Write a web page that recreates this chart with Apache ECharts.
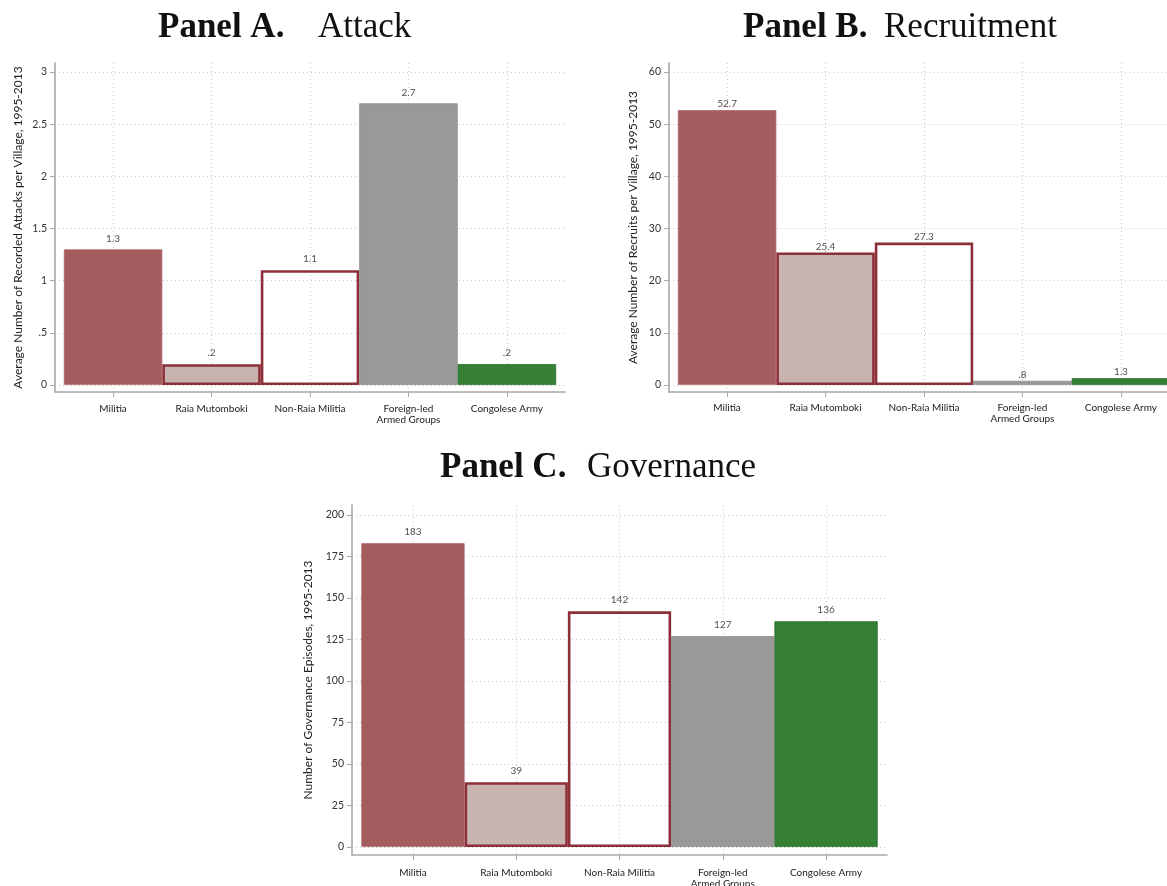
<!DOCTYPE html>
<html>
<head>
<meta charset="utf-8">
<script src="https://cdn.jsdelivr.net/npm/echarts@6/dist/echarts.min.js"></script>
<style>
  html, body { margin: 0; padding: 0; background: #ffffff; }
  #chart { width: 1167px; height: 886px; }
</style>
</head>
<body>
<div id="chart"></div>
<script>
// Armed actors compared in every panel
const categories = ['Militia', 'Raia Mutomboki', 'Non-Raia Militia', 'Foreign-led\nArmed Groups', 'Congolese Army'];

// Panel values, one per actor
const attackValues = [1.3, 0.2, 1.1, 2.7, 0.2];
const recruitValues = [52.7, 25.4, 27.3, 0.8, 1.3];
const governanceValues = [183, 39, 142, 127, 136];

// Y-axis tick labels
const attackTicks = [0, 0.5, 1, 1.5, 2, 2.5, 3];
const recruitTicks = [0, 10, 20, 30, 40, 50, 60];
const governanceTicks = [0, 25, 50, 75, 100, 125, 150, 175, 200];

// Stata-like number format: drop the leading zero (0.2 -> .2)
function stataFmt(v) {
  const s = String(Math.round(v * 10) / 10);
  return s.replace(/^0\./, '.').replace(/^-0\./, '-.');
}

const MAROON = '#8c2f39';
const barStyles = [
  { color: '#a45c5f', borderColor: '#b06a6d', borderWidth: 0.8 },
  { color: '#c9b3af', borderColor: MAROON, borderWidth: 2.6 },
  { color: 'rgba(255,255,255,0)', borderColor: MAROON, borderWidth: 2.6 },
  { color: '#999999', borderColor: '#8e8e8e', borderWidth: 0.8 },
  { color: '#358034', borderColor: '#2b6e2b', borderWidth: 0.8 }
];

const panels = [
  {
    head: 'Panel A.', sub: 'Attack', headPos: [158, 10], subPos: [318, 10],
    values: attackValues, ticks: attackTicks,
    yName: 'Average Number of Recorded Attacks per Village, 1995-2013',
    grid: { left: 55, top: 63, width: 510, height: 329 },
    padBelow: 7, padAbove: 9, nameGap: 31, labelDist: 6, xMargin: 11
  },
  {
    head: 'Panel B.', sub: 'Recruitment', headPos: [743, 10], subPos: [884, 10],
    values: recruitValues, ticks: recruitTicks,
    yName: 'Average Number of Recruits per Village, 1995-2013',
    grid: { left: 669, top: 63, width: 510, height: 329 },
    padBelow: 7, padAbove: 9, nameGap: 30, labelDist: 1, xMargin: 10
  },
  {
    head: 'Panel C.', sub: 'Governance', headPos: [440, 450], subPos: [587, 450],
    values: governanceValues, ticks: governanceTicks,
    yName: 'Number of Governance Episodes, 1995-2013',
    grid: { left: 352, top: 505, width: 535, height: 350 },
    padBelow: 8, padAbove: 10, nameGap: 38, labelDist: 6, xMargin: 12
  }
];

const catPositions = categories.map((c, i) => i + 1);
const xPad = 0.59;

const axisGray = '#a8a8a8';
const gridLine = { show: true, lineStyle: { type: [1, 3], color: '#c8c8c8', width: 1 } };
const sansFont = 'Lato';
const serifFont = 'Liberation Serif';

const title = [];
const grid = [];
const xAxis = [];
const yAxis = [];
const series = [];

panels.forEach((p, i) => {
  title.push({
    left: p.headPos[0], top: p.headPos[1], text: p.head, padding: 0,
    textStyle: { fontFamily: serifFont, fontWeight: 'bold', fontSize: 35, color: '#111111' }
  });
  title.push({
    left: p.subPos[0], top: p.subPos[1], text: p.sub, padding: 0,
    textStyle: { fontFamily: serifFont, fontWeight: 'normal', fontSize: 35, color: '#111111' }
  });

  grid.push(Object.assign({ containLabel: false, outerBoundsMode: 'none' }, p.grid));

  const topTick = p.ticks[p.ticks.length - 1];
  const unitPerPx = topTick / (p.grid.height - p.padBelow - p.padAbove);

  xAxis.push({
    gridIndex: i,
    type: 'value',
    min: catPositions[0] - xPad,
    max: catPositions[catPositions.length - 1] + xPad,
    axisLine: { show: true, onZero: false, lineStyle: { color: axisGray, width: 1.6 } },
    axisTick: { show: true, customValues: catPositions, length: 5, lineStyle: { color: axisGray, width: 1 } },
    axisLabel: {
      show: true, customValues: catPositions,
      formatter: v => categories[Math.round(v) - 1],
      fontFamily: sansFont, fontSize: 10, lineHeight: 11.5, color: '#222222', margin: p.xMargin
    },
    splitLine: gridLine
  });

  yAxis.push({
    gridIndex: i,
    type: 'value',
    min: -p.padBelow * unitPerPx,
    max: topTick + p.padAbove * unitPerPx,
    axisLine: { show: true, onZero: false, lineStyle: { color: axisGray, width: 1.6 } },
    axisTick: { show: true, customValues: p.ticks, length: 5, lineStyle: { color: axisGray, width: 1 } },
    axisLabel: {
      show: true, customValues: p.ticks, formatter: stataFmt,
      fontFamily: sansFont, fontSize: 10.5, color: '#333333', margin: 8
    },
    splitLine: gridLine,
    name: p.yName,
    nameLocation: 'middle',
    nameGap: p.nameGap,
    nameTextStyle: { fontFamily: sansFont, fontSize: 12, color: '#222222' }
  });

  series.push({
    type: 'bar',
    xAxisIndex: i,
    yAxisIndex: i,
    barWidth: '100%',
    silent: true,
    data: p.values.map((v, k) => ({ value: [catPositions[k], v], itemStyle: barStyles[k] })),
    label: {
      show: true, position: 'top', distance: p.labelDist,
      formatter: d => stataFmt(d.value[1]),
      fontFamily: sansFont, fontSize: 10, color: '#55504a'
    }
  });
});

const chart = echarts.init(document.getElementById('chart'), null, { renderer: 'canvas' });
chart.setOption({
  backgroundColor: '#ffffff',
  animation: false,
  title, grid, xAxis, yAxis, series
});
</script>
</body>
</html>
